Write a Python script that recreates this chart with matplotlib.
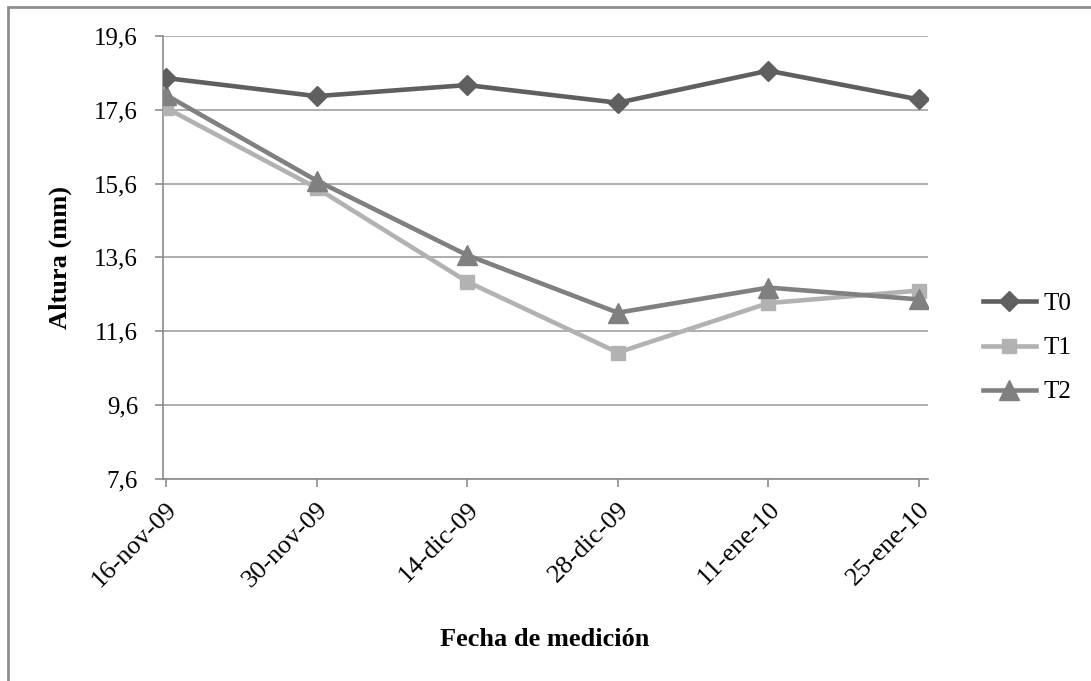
import matplotlib
matplotlib.use("Agg")
import matplotlib.pyplot as plt
from matplotlib.patches import Rectangle

# datos
fechas = ["16-nov-09", "30-nov-09", "14-dic-09", "28-dic-09", "11-ene-10", "25-ene-10"]
t0 = [18.46, 17.97, 18.27, 17.79, 18.66, 17.88]
t1 = [17.65, 15.48, 12.94, 11.02, 12.36, 12.70]
t2 = [18.00, 15.68, 13.66, 12.10, 12.78, 12.46]
yticks = [7.6, 9.6, 11.6, 13.6, 15.6, 17.6, 19.6]

plt.rcParams['font.family'] = ['Liberation Serif', 'DejaVu Serif']

W, H = 1091, 681
fig = plt.figure(figsize=(W/100, H/100), dpi=100)
ax = fig.add_axes([163/W, 1-478.7/H, (928-163)/W, (478.7-36)/H])

x = range(len(fechas))
ax.plot(x, t0, color='#5f5f5f', lw=3.3, marker='D', ms=10, label='T0', zorder=4)
ax.plot(x, t1, color='#b2b2b2', lw=3.3, marker='s', ms=10, label='T1', zorder=3)
ax.plot(x, t2, color='#808080', lw=3.3, marker='^', ms=14, label='T2', zorder=3)

ax.set_ylim(7.6, 19.6)
ax.set_xlim(-0.02, 5.06)
ax.set_yticks(yticks)
ax.set_yticklabels([("%.1f" % v).replace('.', ',') for v in yticks], fontsize=18)
ax.set_xticks(list(x))
ax.set_xticklabels(fechas, fontsize=19, rotation=45, ha='right', rotation_mode='anchor')

ax.grid(axis='y', color='#a0a0a0', lw=1.2)
ax.set_axisbelow(True)
for s in ['top', 'right']:
    ax.spines[s].set_visible(False)
for s in ['left', 'bottom']:
    ax.spines[s].set_color('#8c8c8c')
    ax.spines[s].set_linewidth(1.2)
ax.tick_params(axis='both', color='#8c8c8c', width=1.2, length=6)
ax.tick_params(axis='y', pad=12)
ax.tick_params(axis='x', pad=8)

fig.text(60/W, 1-257/H, 'Altura (mm)', fontsize=19, fontweight='bold',
         rotation=90, ha='center', va='center')
fig.text(545/W, 1-640/H, 'Fecha de medición', fontsize=19, fontweight='bold',
         ha='center', va='center')

ax.legend(loc='center left', bbox_to_anchor=(983/W, 1-348/H), bbox_transform=fig.transFigure,
          frameon=False, fontsize=18, handlelength=2.1, handletextpad=0.3,
          labelspacing=0.87, borderpad=0, borderaxespad=0)

# marco exterior
fig.patches.append(Rectangle((8/W, -0.05), 1.1, 1-7/H+0.05, transform=fig.transFigure,
                             fill=False, edgecolor='#8c8c8c', lw=2))

fig.savefig('out.png', dpi=100)
